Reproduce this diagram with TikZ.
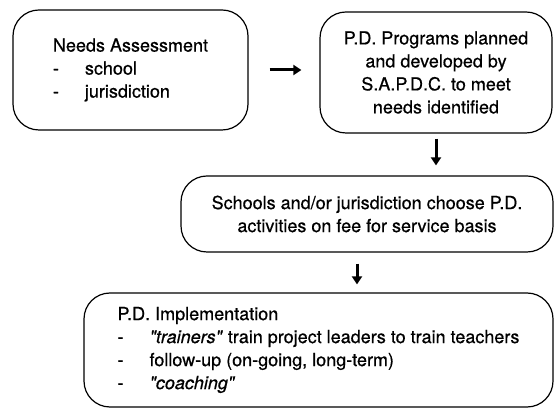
\documentclass[tikz,border=0pt]{standalone}
\usepackage{fontspec}
\setmainfont{TeX Gyre Heros}[FakeBold=0.6]
\usetikzlibrary{arrows.meta}
\newcommand{\itemdash}{\makebox[32pt][l]{-}}

\begin{document}
\begin{tikzpicture}[x=1pt,y=1pt,
  stage/.style={draw, line width=1.2pt, rounded corners=26pt, inner sep=0pt,
    font=\fontsize{18}{23}\selectfont},
  flow/.style={line width=3pt, -{Triangle[length=8pt,width=10pt]}}]

  \useasboundingbox (0,0) rectangle (554,409);

  \node[stage, minimum width=235pt, minimum height=120pt, align=left] (needs) at (130.5,339)
    {Needs Assessment\\ \itemdash school\\ \itemdash jurisdiction};
  \node[stage, minimum width=232pt, minimum height=121pt, align=center] (programs) at (436,336.5)
    {P.D. Programs planned\\ and developed by\\ S.A.P.D.C. to meet\\ needs identified};
  \node[stage, minimum width=372pt, minimum height=76pt, align=center] (choose) at (367,195)
    {Schools and/or jurisdiction choose P.D.\\ activities on fee for service basis};
  \node[stage, minimum width=469pt, minimum height=114pt, align=left] (implement) at (318.5,59)
    {P.D. Implementation\\
     \itemdash\textit{\textquotedbl trainers\textquotedbl} train project leaders to train teachers\\
     \itemdash follow-up (on-going, long-term)\\
     \itemdash\textit{\textquotedbl coaching\textquotedbl}};

  \draw[flow, shorten <=21pt, shorten >=18pt] (needs.east) -- (needs.east -| programs.west);
  \draw[flow, shorten <=5pt, shorten >=10pt] (programs.south) -- (programs.south |- choose.north);
  \draw[flow, shorten <=11pt, shorten >=8pt] ([xshift=-10pt]choose.south)
    -- ([xshift=-10pt]choose.south |- implement.north);

\end{tikzpicture}
\end{document}
